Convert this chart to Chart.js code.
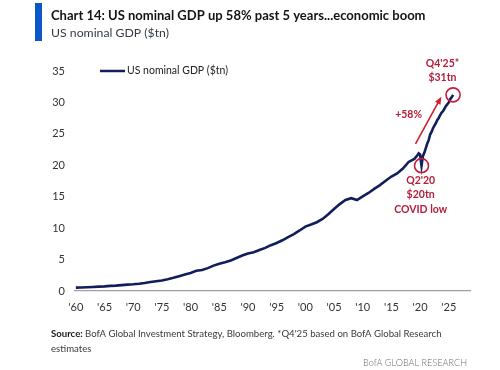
<!DOCTYPE html>
<html>
<head>
<meta charset="utf-8">
<script src="https://cdn.jsdelivr.net/npm/chart.js@4.4.1/dist/chart.umd.min.js"></script>
<style>
  html, body { margin: 0; padding: 0; background: #fff; }
</style>
</head>
<body>
<canvas id="gdpChart" width="500" height="370"></canvas>
<script>
// US nominal GDP ($tn) - annual 1960-2018, quarterly from 2019
const annualYears = [
  1960, 1961, 1962, 1963, 1964, 1965, 1966, 1967, 1968, 1969,
  1970, 1971, 1972, 1973, 1974, 1975, 1976, 1977, 1978, 1979,
  1980, 1981, 1982, 1983, 1984, 1985, 1986, 1987, 1988, 1989,
  1990, 1991, 1992, 1993, 1994, 1995, 1996, 1997, 1998, 1999,
  2000, 2001, 2002, 2003, 2004, 2005, 2006, 2007, 2008, 2009,
  2010, 2011, 2012, 2013, 2014, 2015, 2016, 2017, 2018
];
const annualGdp = [
  0.54, 0.56, 0.60, 0.64, 0.69, 0.74, 0.82, 0.86, 0.94, 1.02,
  1.07, 1.16, 1.28, 1.43, 1.55, 1.68, 1.87, 2.09, 2.36, 2.63,
  2.86, 3.21, 3.35, 3.64, 4.04, 4.34, 4.58, 4.86, 5.24, 5.64,
  5.96, 6.16, 6.52, 6.86, 7.29, 7.64, 8.07, 8.58, 9.06, 9.63,
  10.25, 10.58, 10.94, 11.46, 12.21, 13.04, 13.82, 14.47, 14.77, 14.48,
  15.05, 15.60, 16.25, 16.84, 17.55, 18.21, 18.70, 19.48, 20.53
];
const quarterX = [
  2019.00, 2019.25, 2019.50, 2019.75,
  2020.00, 2020.25, 2020.50, 2020.75,
  2021.00, 2021.25, 2021.50, 2021.75,
  2022.00, 2022.25, 2022.50, 2022.75,
  2023.00, 2023.25, 2023.50, 2023.75,
  2024.00, 2024.25, 2024.50, 2024.75,
  2025.00, 2025.25, 2025.50, 2025.75
];
const quarterGdp = [
  21.00, 21.29, 21.55, 21.90,
  21.71, 19.94, 21.49, 22.02,
  22.74, 23.46, 24.00, 24.90,
  25.30, 25.90, 26.30, 26.70,
  27.20, 27.50, 28.00, 28.40,
  28.60, 29.00, 29.40, 29.70,
  30.00, 30.50, 30.80, 31.20
];
const tickYears = [1960, 1965, 1970, 1975, 1980, 1985, 1990, 1995, 2000, 2005, 2010, 2015, 2020, 2025];
const yTicks = [0, 5, 10, 15, 20, 25, 30, 35];

// annotations (data coordinates)
const covidIdx = 5;
const arrowFrom = [2019.2, 23.4];
const arrowTo = [2023.7, 30.9];
const noteTexts = ["Q4'25*", '$31tn', '+58%', "Q2'20", '$20tn', 'COVID low'];
const noteX = [2023.9, 2023.9, 2018.0, 2020.1, 2020.1, 2020.1];
const noteY = [36.2, 33.9, 28.0, 17.6, 15.3, 13.0];

const FONT = 'Lato, "Open Sans", sans-serif';
const NAVY = '#101f5c';
const RED = '#b3203a';

const points = annualYears.map((yr, i) => ({ x: yr, y: annualGdp[i] }))
  .concat(quarterX.map((q, i) => ({ x: q, y: quarterGdp[i] })));

function fitFont(ctx, text, weight, width) {
  ctx.font = weight + ' 20px ' + FONT;
  const size = 20 * width / ctx.measureText(text).width;
  ctx.font = weight + ' ' + size.toFixed(2) + 'px ' + FONT;
  return size;
}

const overlay = {
  id: 'overlay',
  afterDraw(chart) {
    const { ctx, chartArea } = chart;
    const xs = chart.scales.x, ys = chart.scales.y;
    ctx.save();

    // header
    ctx.fillStyle = '#0b57c8';
    ctx.fillRect(35, 3, 7, 38);
    ctx.textBaseline = 'alphabetic';
    ctx.textAlign = 'left';
    ctx.fillStyle = '#141414';
    fitFont(ctx, 'Chart 14: US nominal GDP up 58% past 5 years...economic boom', 'bold', 375);
    ctx.fillText('Chart 14: US nominal GDP up 58% past 5 years...economic boom', 51, 20);
    ctx.fillStyle = '#333b45';
    fitFont(ctx, 'US nominal GDP ($tn)', 'normal', 118);
    ctx.fillText('US nominal GDP ($tn)', 51, 37);

    // legend
    const legY = ys.getPixelForValue(35);
    ctx.strokeStyle = NAVY;
    ctx.lineWidth = 2.5;
    ctx.beginPath();
    ctx.moveTo(chartArea.left + 25, legY);
    ctx.lineTo(chartArea.left + 50, legY);
    ctx.stroke();
    ctx.fillStyle = '#222';
    ctx.textBaseline = 'middle';
    fitFont(ctx, 'US nominal GDP ($tn)', 'normal', 101);
    ctx.fillText('US nominal GDP ($tn)', chartArea.left + 52, legY);

    // circles
    ctx.strokeStyle = '#c41e3a';
    ctx.lineWidth = 1.6;
    [covidIdx, quarterGdp.length - 1].forEach(i => {
      ctx.beginPath();
      ctx.arc(xs.getPixelForValue(quarterX[i]), ys.getPixelForValue(quarterGdp[i]), 7, 0, Math.PI * 2);
      ctx.stroke();
    });

    // arrow
    const ax0 = xs.getPixelForValue(arrowFrom[0]), ay0 = ys.getPixelForValue(arrowFrom[1]);
    const ax1 = xs.getPixelForValue(arrowTo[0]), ay1 = ys.getPixelForValue(arrowTo[1]);
    const ang = Math.atan2(ay1 - ay0, ax1 - ax0);
    ctx.strokeStyle = '#d0202e';
    ctx.fillStyle = '#d0202e';
    ctx.lineWidth = 1.6;
    ctx.beginPath();
    ctx.moveTo(ax0, ay0);
    ctx.lineTo(ax1 - 5 * Math.cos(ang), ay1 - 5 * Math.sin(ang));
    ctx.stroke();
    ctx.beginPath();
    ctx.moveTo(ax1, ay1);
    ctx.lineTo(ax1 - 8 * Math.cos(ang - 0.4), ay1 - 8 * Math.sin(ang - 0.4));
    ctx.lineTo(ax1 - 8 * Math.cos(ang + 0.4), ay1 - 8 * Math.sin(ang + 0.4));
    ctx.closePath();
    ctx.fill();

    // annotation text
    ctx.fillStyle = RED;
    ctx.textAlign = 'center';
    ctx.textBaseline = 'middle';
    ctx.font = 'bold 10.5px ' + FONT;
    noteTexts.forEach((t, i) => {
      ctx.fillText(t, xs.getPixelForValue(noteX[i]), ys.getPixelForValue(noteY[i]));
    });

    // footer
    ctx.textAlign = 'left';
    ctx.textBaseline = 'alphabetic';
    const srcBold = 'Source: ';
    const srcRest = 'BofA Global Investment Strategy, Bloomberg. *Q4\'25 based on BofA Global Research';
    ctx.font = 'bold 20px ' + FONT;
    const wb = ctx.measureText(srcBold).width;
    ctx.font = 'normal 20px ' + FONT;
    const wr = ctx.measureText(srcRest).width;
    const sz = (20 * 391 / (wb + wr)).toFixed(2);
    ctx.font = 'bold ' + sz + 'px ' + FONT;
    ctx.fillStyle = '#1a1a1a';
    ctx.fillText(srcBold, 51, 337);
    const off = ctx.measureText(srcBold).width;
    ctx.font = 'normal ' + sz + 'px ' + FONT;
    ctx.fillStyle = '#3a3a3a';
    ctx.fillText(srcRest, 51 + off, 337);
    ctx.fillText('estimates', 51, 352);
    ctx.textAlign = 'right';
    ctx.fillStyle = '#6a6a6a';
    fitFont(ctx, 'BofA GLOBAL RESEARCH', '300', 104);
    ctx.fillText('BofA GLOBAL RESEARCH', 467, 366);

    ctx.restore();
  }
};

new Chart(document.getElementById('gdpChart').getContext('2d'), {
  type: 'line',
  data: {
    datasets: [{
      label: 'US nominal GDP ($tn)',
      data: points,
      borderColor: NAVY,
      borderWidth: 2.6,
      pointRadius: 0,
      tension: 0,
      fill: false
    }]
  },
  options: {
    responsive: false,
    animation: false,
    layout: { padding: { left: 0, top: 71, right: 30, bottom: 0 } },
    plugins: {
      legend: { display: false },
      tooltip: { enabled: false }
    },
    scales: {
      x: {
        type: 'linear',
        min: 1959.85,
        max: 2028.7,
        afterFit: s => { s.height = 79; },
        afterBuildTicks: s => { s.ticks = tickYears.map(v => ({ value: v })); },
        grid: { display: false, drawTicks: false },
        border: { display: true, color: '#a0a0a0', width: 1.2 },
        ticks: {
          padding: 10,
          color: '#333',
          font: { family: FONT, size: 11 },
          maxRotation: 0,
          callback: v => "'" + String(v).slice(2)
        }
      },
      y: {
        min: 0,
        max: 35,
        afterFit: s => { s.width = 75; },
        afterBuildTicks: s => { s.ticks = yTicks.map(v => ({ value: v })); },
        grid: { display: false, drawTicks: false },
        border: { display: false },
        ticks: {
          padding: 10,
          color: '#333',
          font: { family: FONT, size: 11 }
        }
      }
    }
  },
  plugins: [overlay]
});
</script>
</body>
</html>
